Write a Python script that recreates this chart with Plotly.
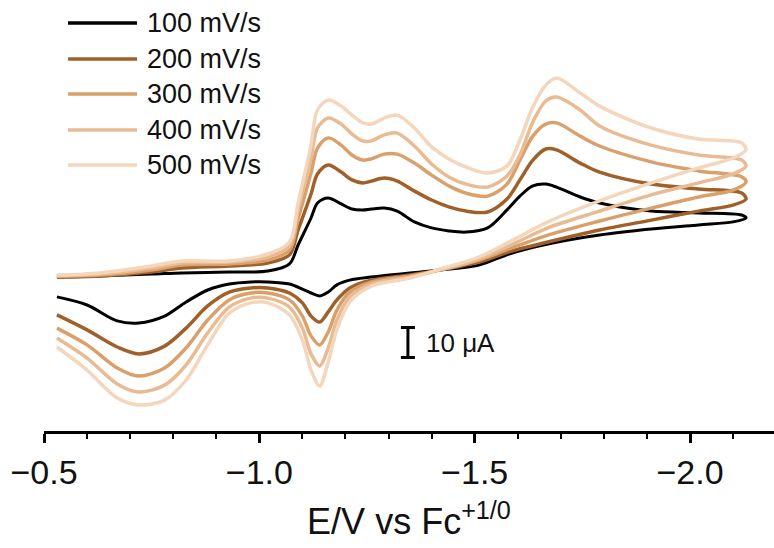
import plotly.graph_objects as go

# Potentials (V vs Fc+/0): forward (cathodic) sweep and return sweep
E_fwd = [-0.53, -0.63, -0.75, -0.82, -0.93, -1.02, -1.07, -1.09, -1.12, -1.135, -1.16, -1.19,
         -1.215, -1.24, -1.26, -1.29, -1.32, -1.36, -1.40, -1.44, -1.48, -1.53, -1.575, -1.605,
         -1.635, -1.665, -1.69, -1.745, -1.79, -1.91, -2.02, -2.12]
E_rev = [-2.13, -2.10, -2.02, -1.91, -1.79, -1.67, -1.58, -1.51, -1.42, -1.35, -1.26, -1.21, -1.18,
         -1.16, -1.14, -1.12, -1.10, -1.07, -1.02, -0.98, -0.93, -0.88, -0.83, -0.78, -0.72, -0.67,
         -0.60, -0.53]

# Currents (uA, arbitrary offset)
I100_fwd = [-0.7, -0.3, 0.3, 0.7, 1.0, 1.3, 3.7, 10.0, 19.0, 24.0, 25.7, 23.7,
            22.0, 21.7, 22.0, 22.3, 21.3, 17.7, 15.7, 14.7, 14.3, 15.7, 21.7, 26.3,
            29.7, 30.3, 29.3, 26.0, 24.0, 21.3, 20.7, 20.0]
I100_rev = [19.0, 17.7, 16.7, 15.3, 13.3, 10.3, 7.0, 3.3, 1.7, 0.7, -0.7, -1.7, -3.3,
            -5.7, -7.0, -6.0, -4.7, -3.0, -2.3, -2.3, -3.0, -5.0, -9.0, -13.7, -16.0, -15.3,
            -10.0, -7.3]

I200_fwd = [-0.7, -0.3, 1.0, 2.3, 3.0, 4.0, 6.7, 15.0, 27.0, 33.7, 36.7, 34.3,
            31.7, 30.7, 31.3, 32.3, 31.3, 28.0, 25.0, 22.7, 21.3, 21.0, 25.3, 31.7,
            38.3, 42.0, 41.7, 37.3, 34.3, 30.3, 28.7, 27.3]
I200_rev = [25.3, 23.3, 21.3, 18.3, 15.0, 11.0, 7.7, 4.3, 1.7, 0.0, -1.7, -4.3, -8.3,
            -12.3, -15.7, -13.7, -9.3, -6.0, -4.3, -4.3, -5.7, -10.3, -17.7, -23.7, -26.3, -24.0,
            -18.3, -13.3]

I300_fwd = [-0.3, 0.0, 1.7, 3.3, 3.7, 5.0, 8.3, 18.7, 34.0, 42.3, 45.7, 43.3,
            40.0, 38.3, 38.7, 40.3, 40.3, 37.3, 33.3, 29.7, 27.3, 26.3, 30.3, 38.3,
            46.3, 50.3, 50.7, 46.3, 43.0, 37.7, 34.7, 32.7]
I300_rev = [31.0, 28.3, 26.0, 22.3, 18.0, 13.3, 8.7, 5.0, 1.7, -0.3, -2.3, -5.7, -11.7,
            -19.0, -23.3, -20.3, -13.7, -8.3, -6.0, -6.0, -8.3, -15.0, -24.3, -31.0, -33.7, -31.0,
            -23.3, -17.7]

I400_fwd = [-0.3, 0.3, 2.3, 4.0, 4.3, 6.0, 9.7, 21.7, 39.0, 49.0, 52.3, 50.3,
            47.0, 44.7, 44.7, 46.7, 47.3, 43.0, 37.0, 32.7, 30.3, 29.3, 33.0, 40.0,
            51.0, 58.0, 59.3, 55.0, 49.7, 43.3, 40.0, 38.3]
I400_rev = [36.3, 33.7, 30.7, 26.7, 21.3, 15.7, 9.7, 5.3, 1.7, -0.7, -3.0, -7.3, -15.0,
            -24.3, -30.3, -26.3, -17.7, -10.7, -7.7, -7.7, -10.7, -19.3, -30.0, -36.7, -39.0, -36.3,
            -27.7, -21.0]

I500_fwd = [0.0, 0.7, 3.0, 4.7, 4.7, 7.0, 11.0, 24.0, 43.3, 55.0, 58.3, 56.3,
            53.3, 50.7, 50.3, 52.3, 53.3, 49.0, 42.7, 38.7, 36.0, 34.0, 36.3, 45.0,
            56.0, 63.3, 65.7, 60.7, 56.3, 49.0, 45.3, 44.0]
I500_rev = [41.7, 39.0, 35.7, 30.7, 24.7, 17.7, 11.0, 6.0, 2.0, -1.0, -3.7, -9.0, -18.3,
            -29.0, -37.0, -31.7, -21.7, -13.3, -9.3, -9.3, -12.7, -23.3, -35.0, -41.7, -43.3, -41.0,
            -31.7, -24.0]

scan_rates = ["100 mV/s", "200 mV/s", "300 mV/s", "400 mV/s", "500 mV/s"]
series_fwd = [I100_fwd, I200_fwd, I300_fwd, I400_fwd, I500_fwd]
series_rev = [I100_rev, I200_rev, I300_rev, I400_rev, I500_rev]

scale_bar_uA = 10

# styles
colors = ["#000000", "#a0602a", "#d9a06c", "#e8bb92", "#f3d6bb"]
widths = [3.0, 3.5, 3.5, 3.5, 3.5]
FONT = "Liberation Sans, Arial, sans-serif"

fig = go.Figure()
for name, f, r, c, w in zip(scan_rates, series_fwd, series_rev, colors, widths):
    fig.add_trace(go.Scatter(
        x=E_fwd + E_rev, y=f + r, mode="lines", name=name,
        line=dict(color=c, width=w, shape="spline", smoothing=0.9),
        showlegend=False))

shapes = []
annotations = []
# manual legend
row_y = [0.9466, 0.8631, 0.7819, 0.6984, 0.6172]
for name, c, yy in zip(scan_rates, colors, row_y):
    shapes.append(dict(type="line", xref="paper", yref="paper", x0=0.0329, x1=0.1274,
                       y0=yy, y1=yy, line=dict(color=c, width=3.5)))
    annotations.append(dict(xref="paper", yref="paper", x=0.1384, y=yy, text=name,
                            showarrow=False, xanchor="left", yanchor="middle",
                            font=dict(family=FONT, size=27, color="#111")))

# scale bar
xb, dx = -1.345, 0.0163
y0b, y1b = -17.5, -17.5 - scale_bar_uA
shapes += [
    dict(type="line", x0=xb, x1=xb, y0=y0b, y1=y1b, line=dict(color="black", width=3)),
    dict(type="line", x0=xb - dx, x1=xb + dx, y0=y0b, y1=y0b, line=dict(color="black", width=3)),
    dict(type="line", x0=xb - dx, x1=xb + dx, y0=y1b, y1=y1b, line=dict(color="black", width=3)),
]
annotations.append(dict(x=-1.383, y=(y0b + y1b) / 2, text=f"{scale_bar_uA} μA", showarrow=False,
                        xanchor="left", yanchor="middle",
                        font=dict(family=FONT, size=26, color="#111")))

fig.update_layout(
    width=774, height=548,
    margin=dict(l=44, r=0, t=0, b=117),
    paper_bgcolor="white", plot_bgcolor="white",
    shapes=shapes, annotations=annotations,
    xaxis=dict(range=[-0.5, -2.195], showgrid=False, zeroline=False,
               showline=True, linecolor="black", linewidth=2.5,
               ticks="outside", ticklen=9, tickwidth=2.5, tickcolor="black",
               tick0=-0.5, dtick=0.5, tickformat=".1f",
               minor=dict(ticks="outside", ticklen=5, tickwidth=2, tickcolor="black", dtick=0.1,
                          showgrid=False),
               tickfont=dict(family=FONT, size=34, color="#111"),
               title=dict(text="E/V vs Fc<sup>+1/0</sup>", standoff=20,
                          font=dict(family=FONT, size=36, color="#111"))),
    yaxis=dict(range=[-52, 91.667], visible=False),
)

fig.write_html("out.html")
